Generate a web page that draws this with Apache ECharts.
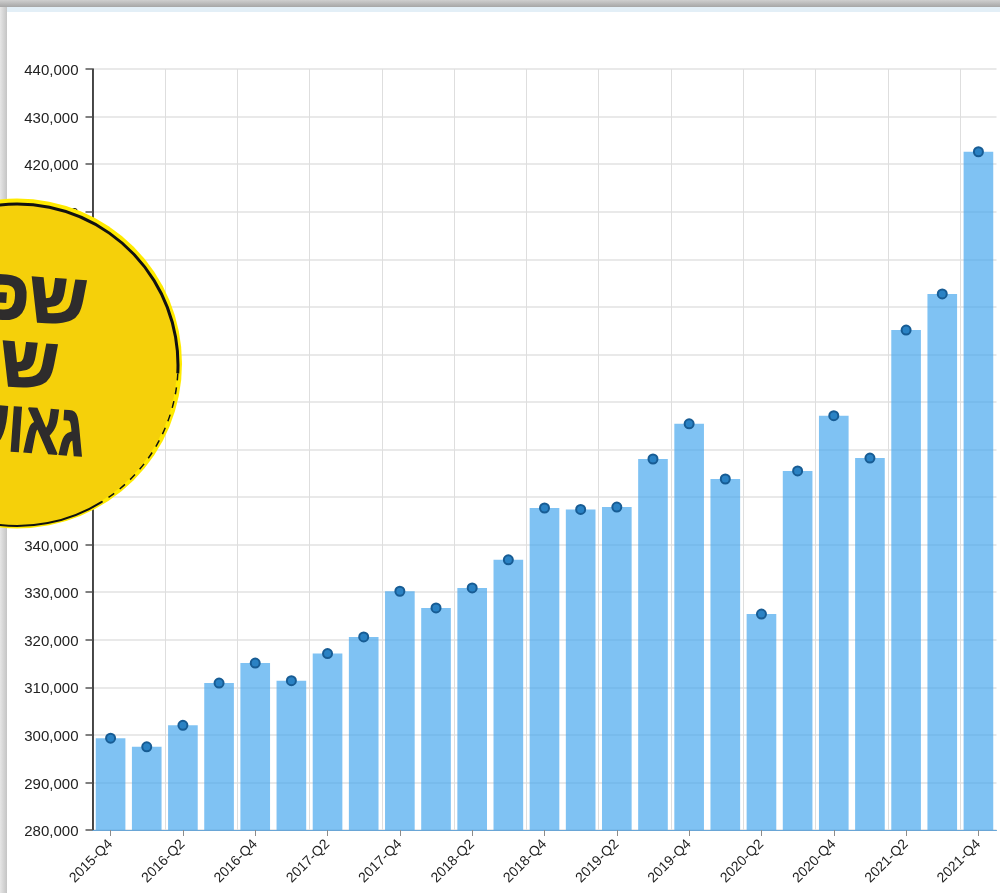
<!DOCTYPE html>
<html>
<head>
<meta charset="utf-8">
<script src="https://cdn.jsdelivr.net/npm/echarts@6/dist/echarts.min.js"></script>
<style>
  html,body{margin:0;padding:0;background:#fff;overflow:hidden}
  .shadeTop{position:absolute;left:0;top:0;width:1000px;height:7px;background:linear-gradient(#cfcfcf,#a6a6a6)}
  .shadeLeft{position:absolute;left:0;top:7px;width:7px;height:886px;background:linear-gradient(90deg,#e6e6e6,#c4c4c4)}
  .strip{position:absolute;left:7px;top:7px;width:993px;height:5px;background:#e3eff7}
  #chart{position:absolute;left:0;top:0;width:1000px;height:893px}
</style>
</head>
<body>
<div class="shadeTop"></div>
<div class="shadeLeft"></div>
<div class="strip"></div>
<div id="chart"></div>
<script>
const categories=[
  '2015-Q4',
  '2016-Q1','2016-Q2','2016-Q3','2016-Q4',
  '2017-Q1','2017-Q2','2017-Q3','2017-Q4',
  '2018-Q1','2018-Q2','2018-Q3','2018-Q4',
  '2019-Q1','2019-Q2','2019-Q3','2019-Q4',
  '2020-Q1','2020-Q2','2020-Q3','2020-Q4',
  '2021-Q1','2021-Q2','2021-Q3','2021-Q4'
];
const values=[
  299300,
  297500,302000,310900,315100,
  311400,317100,320600,330200,
  326700,330900,336800,347700,
  347400,347900,358000,365400,
  353800,325400,355500,367100,
  358200,385100,392700,422600
];
const badgeLines=['שפ','שע','גאוע'];

const myChart=echarts.init(document.querySelector('#chart'));

const font='"Liberation Sans",Arial,sans-serif';
const badgeFont='bold 72px "Liberation Sans"';
const deg=(d)=>d*Math.PI/180;

// one line of the round sticker, tilted a bit clockwise
const badgeText=(text,x,y,scaleX)=>({
  type:'text',x:x,y:y,rotation:-0.07,scaleX:scaleX,z:103,
  style:{text:text,align:'right',verticalAlign:'middle',fill:'#2e2c2c',font:badgeFont,stroke:'#2e2c2c',lineWidth:2}
});
const badgeArc=(from,to,width,dash)=>({
  type:'arc',z:103,
  shape:{cx:17,cy:365,r:161,startAngle:deg(from),endAngle:deg(to),clockwise:true},
  style:{fill:null,stroke:'#111',lineWidth:width,lineDash:dash}
});

const option={
  animation:false,
  backgroundColor:'transparent',
  grid:{left:92.5,top:69,width:904,height:761},
  xAxis:{
    type:'category',
    data:categories,
    boundaryGap:true,
    axisLine:{lineStyle:{color:'#6aa6d6',width:1}},
    axisTick:{show:true,alignWithLabel:true,interval:1,length:6,lineStyle:{color:'#8c8c8c'}},
    axisLabel:{interval:1,rotate:45,color:'#222',fontFamily:font,fontSize:14,margin:12},
    splitLine:{show:true,showMaxLine:false,interval:1,lineStyle:{color:'#dedede',width:1}}
  },
  yAxis:{
    type:'value',
    min:280000,
    max:440000,
    interval:10000,
    axisLine:{show:true,lineStyle:{color:'#111',width:1.5}},
    axisTick:{show:true,length:7,lineStyle:{color:'#555',width:1.5}},
    axisLabel:{color:'#222',fontFamily:font,fontSize:15,margin:14,verticalAlign:'top',lineHeight:4,
      formatter:(v)=>v.toLocaleString('en-US')},
    splitLine:{show:true,lineStyle:{color:'#e2e2e2',width:1.5}}
  },
  series:[
    {
      type:'bar',
      data:values,
      barCategoryGap:'18%',
      itemStyle:{color:'rgba(66,165,238,.68)'}
    },
    {
      type:'line',
      data:values,
      lineStyle:{width:0,opacity:0},
      symbol:'circle',
      symbolSize:9,
      itemStyle:{color:'#2a82c4',borderColor:'#175c94',borderWidth:2,opacity:1},
      z:5
    }
  ],
  graphic:[
    {type:'circle',shape:{cx:17,cy:363.5,r:165},z:100,style:{fill:'#ffea00'}},
    {type:'circle',shape:{cx:17,cy:365,r:160},z:102,style:{fill:'#f5cf0a',opacity:.98}},
    badgeArc(-100,3,3,null),
    badgeArc(3,58,1.5,[7,7]),
    badgeArc(58,100,2,null),
    badgeText(badgeLines[0],87,305,1),
    badgeText(badgeLines[1],58,369,1),
    badgeText(badgeLines[2],84,436,0.72)
  ]
};
myChart.setOption(option);
</script>
</body>
</html>
